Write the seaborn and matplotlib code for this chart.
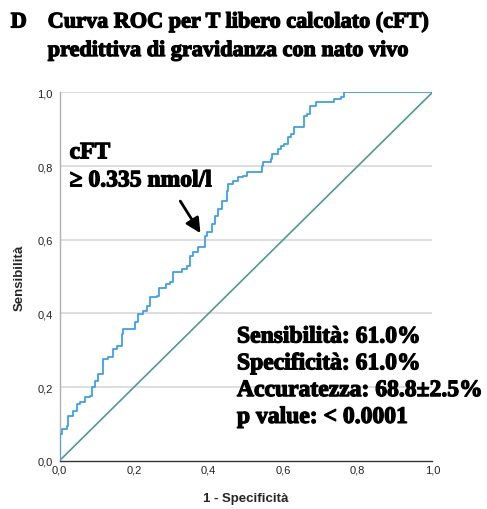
import matplotlib
matplotlib.use("Agg")
import matplotlib.pyplot as plt
import matplotlib.patheffects as pe
import seaborn as sns
import pandas as pd

# ROC curve corners (1 - specificity, sensitivity)
fpr = [0.000, 0.000, 0.007, 0.020, 0.023, 0.036, 0.047, 0.055, 0.069, 0.082,
       0.087, 0.095, 0.103, 0.117, 0.130, 0.144, 0.155, 0.168, 0.171, 0.190,
       0.203, 0.211, 0.224, 0.235, 0.243, 0.262, 0.267, 0.286, 0.297, 0.305,
       0.329, 0.343, 0.351, 0.359, 0.372, 0.390, 0.396, 0.410, 0.418, 0.426,
       0.437, 0.448, 0.453, 0.466, 0.480, 0.493, 0.504, 0.531, 0.544, 0.547,
       0.566, 0.571, 0.585, 0.593, 0.601, 0.612, 0.620, 0.628, 0.647, 0.655,
       0.665, 0.673, 0.687, 0.727, 0.735, 0.754, 0.762, 1.000]
tpr = [0.000, 0.073, 0.086, 0.094, 0.122, 0.135, 0.154, 0.160, 0.173, 0.176,
       0.200, 0.217, 0.236, 0.276, 0.282, 0.304, 0.312, 0.344, 0.358, 0.358,
       0.377, 0.399, 0.407, 0.420, 0.445, 0.448, 0.469, 0.480, 0.486, 0.513,
       0.521, 0.529, 0.556, 0.567, 0.581, 0.610, 0.621, 0.643, 0.665, 0.684,
       0.706, 0.733, 0.752, 0.760, 0.771, 0.774, 0.784, 0.784, 0.801, 0.812,
       0.820, 0.833, 0.847, 0.855, 0.861, 0.880, 0.888, 0.907, 0.907, 0.937,
       0.942, 0.964, 0.975, 0.975, 0.983, 0.988, 1.000, 1.000]

# Reference diagonal
ref_x = [0.0, 1.0]
ref_y = [0.0, 1.0]

# Optimal cut-off point
cut_fpr = 0.39
cut_tpr = 0.61

tick_values = [0.0, 0.2, 0.4, 0.6, 0.8, 1.0]
tick_labels = ["0,0", "0,2", "0,4", "0,6", "0,8", "1,0"]

stats_lines = ["Sensibilità: 61.0%", "Specificità: 61.0%",
               "Accuratezza: 68.8±2.5%", "p value: < 0.0001"]

sns.set_style("white")
plt.rcParams["font.family"] = ["Liberation Sans", "DejaVu Sans"]
plt.rcParams["text.color"] = "black"

fig = plt.figure(figsize=(4.87, 5.10), dpi=100)
ax = fig.add_axes([0.1222, 0.0947, 0.7655, 0.7220])

roc = pd.DataFrame({"fpr": fpr, "tpr": tpr})
ref = pd.DataFrame({"x": ref_x, "y": ref_y})

for yv in tick_values[1:]:
    ax.axhline(yv, color="#d4d4d4", lw=1.1, zorder=0)

sns.lineplot(data=ref, x="x", y="y", ax=ax, color="#4f9a93", lw=1.2,
             estimator=None, sort=False, zorder=2)
sns.lineplot(data=roc, x="fpr", y="tpr", ax=ax, color="#3ea0ec", lw=1.3,
             estimator=None, sort=False, drawstyle="steps-post", zorder=3)

ax.set_xlim(0, 1)
ax.set_ylim(0, 1)
ax.set_xticks(tick_values)
ax.set_xticklabels(tick_labels)
ax.set_yticks(tick_values)
ax.set_yticklabels(tick_labels)
ax.tick_params(axis="both", labelsize=8, colors="#222222", length=0, pad=3)
ax.tick_params(axis="y", length=3, color="#aaaaaa", pad=2)

for s in ["top", "right"]:
    ax.spines[s].set_visible(False)
ax.spines["left"].set_color("#b0b0b0")
ax.spines["left"].set_linewidth(1.0)
ax.spines["bottom"].set_color("#333333")
ax.spines["bottom"].set_linewidth(1.0)

ax.set_xlabel("1 - Specificità", fontsize=9.5, fontweight="bold", labelpad=12)
ax.set_ylabel("Sensibilità", fontsize=9.5, fontweight="bold", labelpad=8)

# Heavy serif text (stroke thickens the glyphs)
serif = ["Liberation Serif", "DejaVu Serif"]
heavy = [pe.withStroke(linewidth=0.9, foreground="black")]

fig.text(0.022, 0.954, "D", fontsize=16, fontweight="bold", family=serif,
         va="center", ha="left", path_effects=heavy)
fig.text(0.098, 0.954, "Curva ROC per T libero calcolato (cFT)", fontsize=16,
         fontweight="bold", family=serif, va="center", ha="left",
         path_effects=heavy)
fig.text(0.098, 0.898, "predittiva di gravidanza con nato vivo", fontsize=16,
         fontweight="bold", family=serif, va="center", ha="left",
         path_effects=heavy)

ax.text(0.027, 0.836, "cFT", fontsize=17, fontweight="bold", family=serif,
        transform=ax.transAxes, va="center", ha="left", path_effects=heavy)
ax.text(0.027, 0.760, "≥ 0.335 nmol/l", fontsize=17, fontweight="bold",
        family=serif, transform=ax.transAxes, va="center", ha="left",
        path_effects=heavy)

ax.annotate("", xy=(cut_fpr - 0.012, cut_tpr + 0.008),
            xytext=(cut_fpr - 0.066, cut_tpr + 0.095),
            arrowprops=dict(arrowstyle="-|>", color="black", lw=2,
                            mutation_scale=22, shrinkA=0, shrinkB=0))

for i, line in enumerate(stats_lines):
    ax.text(0.476, 0.336 - i * 0.0728, line, fontsize=17, fontweight="bold",
            family=serif, transform=ax.transAxes, va="center", ha="left",
            path_effects=heavy)

fig.savefig("out.png", dpi=100)
